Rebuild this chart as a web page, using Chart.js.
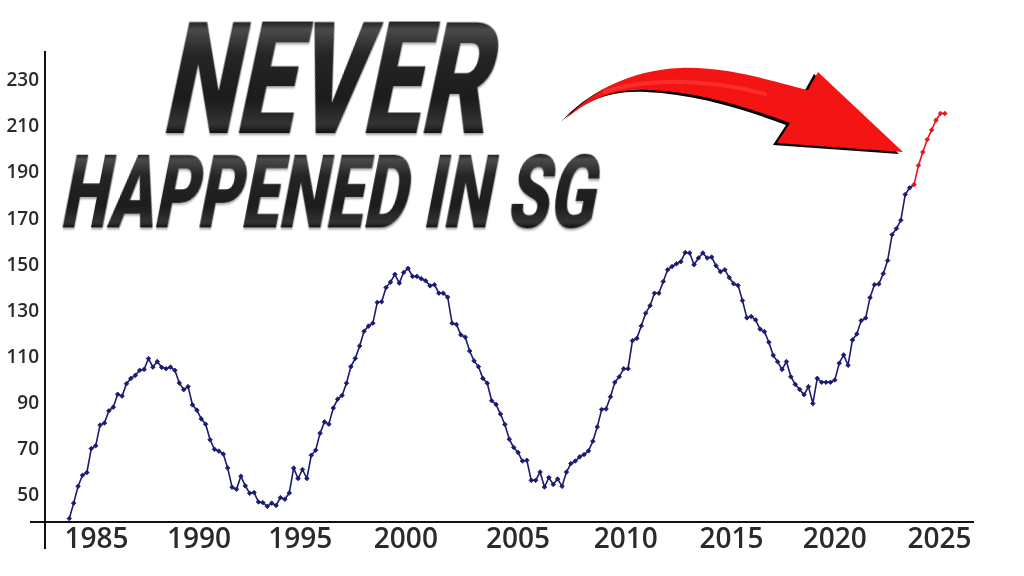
<!DOCTYPE html>
<html>
<head>
<meta charset="utf-8">
<script src="https://cdn.jsdelivr.net/npm/chart.js@4.4.1/dist/chart.umd.min.js"></script>
<style>
  html, body { margin: 0; padding: 0; background: #fff; }
  #wrap { position: relative; width: 1024px; height: 576px; overflow: hidden; background: #fff; }
  #chart { position: absolute; left: 0; top: 0; }
  #arrow { position: absolute; left: 0; top: 0; pointer-events: none; }
  .headline {
    position: absolute; left: 0; top: 0;
    white-space: nowrap;
    font-family: Roboto, "Open Sans", sans-serif;
    font-weight: 900;
    line-height: 1;
    color: #242424;
    -webkit-background-clip: text;
    background-clip: text;
    -webkit-text-fill-color: transparent;
    filter: drop-shadow(1px 2px 1px rgba(0, 0, 0, 0.35));
  }
</style>
</head>
<body>
<div id="wrap">
  <canvas id="chart" width="1024" height="576"></canvas>
  <svg id="arrow" width="1024" height="576" viewBox="0 0 1024 576">
    <path id="arrow_Shadow" fill="#000" transform="translate(-4,2)"
      d="M565,120 C590,92 630,70 680,68 C730,66 780,84 808,90 L818,72 L903,152 L777,143 L790,123 C750,108 700,92 650,90 C610,88 585,102 565,120 Z"/>
    <path id="arrow_Body" fill="#f51414"
      d="M565,120 C590,92 630,70 680,68 C730,66 780,84 808,90 L818,72 L903,152 L777,143 L790,123 C750,108 700,92 650,90 C610,88 585,102 565,120 Z"/>
    <path fill="none" stroke="#ff4040" stroke-width="4" stroke-linecap="round" opacity="0.6"
      d="M605,92 C645,78 705,78 765,94"/>
  </svg>
  <div class="headline" id="title_Top">NEVER</div>
  <div class="headline" id="title_Bottom">HAPPENED IN SG</div>
</div>
<script>
// data, one value per point, left to right
const price_Values = [
  39.9, 46.6, 53.9, 58.7, 59.9, 70.3, 71.5, 80.5, 81.4, 86.7,
  88.3, 93.9, 93.1, 98.5, 100.8, 102.1, 104.3, 104.7, 109.4, 105.7,
  108.1, 105.6, 105.0, 105.7, 104.3, 98.8, 95.9, 97.2, 89.3, 87.0,
  83.2, 80.9, 74.1, 70.0, 69.2, 67.9, 61.9, 53.5, 52.6, 58.3,
  54.1, 50.9, 51.2, 47.1, 46.8, 45.2, 46.6, 45.6, 49.0, 48.3,
  51.0, 61.8, 57.3, 61.2, 57.3, 67.4, 69.6, 77.0, 81.9, 80.9,
  87.9, 91.8, 93.4, 98.7, 105.9, 109.5, 114.9, 121.3, 123.5, 124.8,
  133.8, 134.1, 140.3, 142.6, 146.0, 142.2, 146.8, 148.6, 145.1, 145.1,
  144.1, 143.2, 141.0, 141.5, 137.8, 137.8, 136.1, 124.8, 124.2, 119.7,
  118.7, 112.7, 108.4, 105.9, 100.8, 98.7, 91.1, 89.5, 85.3, 80.8,
  74.4, 70.8, 68.6, 64.9, 65.2, 56.5, 56.5, 60.1, 53.6, 57.7,
  54.7, 57.1, 53.9, 60.1, 63.8, 64.9, 66.7, 67.7, 69.3, 73.5,
  79.7, 87.3, 87.5, 92.8, 99.1, 101.5, 105.0, 105.0, 117.2, 118.2,
  123.6, 129.1, 132.4, 137.8, 137.8, 142.9, 148.0, 149.4, 150.6, 151.5,
  155.5, 155.3, 150.2, 153.1, 155.3, 153.1, 153.5, 149.7, 147.1, 148.0,
  144.6, 141.9, 141.2, 134.6, 127.1, 127.7, 126.2, 122.2, 121.1, 116.5,
  110.8, 108.0, 104.7, 108.1, 101.5, 98.2, 96.0, 93.7, 97.2, 89.9,
  100.8, 99.1, 99.1, 99.1, 100.1, 107.4, 111.0, 106.5, 117.5, 120.1,
  125.9, 127.0, 135.9, 141.5, 141.8, 146.3, 152.0, 163.2, 165.9, 169.5,
  180.7, 183.6, 185.0, 193.3, 199.1, 204.6, 208.7, 213.0, 215.9, 215.9
];
const red_From = 192; // first point drawn red
const tick_Years = [1985, 1990, 1995, 2000, 2005, 2010, 2015, 2020, 2025];
// point index under each year label, as placed in the picture
const tick_Points = [6.2, 29.5, 52.5, 76.5, 102, 126.5, 150.5, 174, 197.8];
const y_Ticks = [50, 70, 90, 110, 130, 150, 170, 190, 210, 230];

const navy = "#1b1b70";
const red = "#e8141a";

Chart.defaults.font.family = "'Open Sans', sans-serif";
Chart.defaults.color = "#2a2a2a";

//axis stubs past the chart area
const axis_Stubs = {
  id: "axis_Stubs",
  afterDraw(chart) {
    const { ctx, chartArea } = chart;
    ctx.save();
    ctx.strokeStyle = "#111";
    ctx.lineWidth = 2;
    ctx.beginPath();
    ctx.moveTo(chartArea.left, chartArea.bottom);
    ctx.lineTo(chartArea.left, chartArea.bottom + 27);
    ctx.moveTo(chartArea.left - 15, chartArea.bottom);
    ctx.lineTo(chartArea.left, chartArea.bottom);
    ctx.stroke();
    ctx.restore();
  },
};

const chart_Data = price_Values.map((v, i) => ({ x: i, y: v }));

new Chart(document.getElementById("chart"), {
  type: "line",
  data: {
    datasets: [
      {
        data: chart_Data,
        borderWidth: 1.6,
        borderColor: navy,
        pointRadius: 2.3,
        pointStyle: "rectRot",
        pointBorderWidth: 0.8,
        pointBackgroundColor: (c) => (c.dataIndex >= red_From ? red : navy),
        pointBorderColor: (c) => (c.dataIndex >= red_From ? red : navy),
        segment: {
          borderColor: (c) => (c.p0DataIndex >= red_From ? red : navy),
        },
        tension: 0,
      },
    ],
  },
  plugins: [axis_Stubs],
  options: {
    responsive: false,
    animation: false,
    devicePixelRatio: 1,
    layout: { padding: { left: 0, top: 52, right: 51, bottom: 0 } },
    plugins: { legend: { display: false }, tooltip: { enabled: false } },
    scales: {
      x: {
        type: "linear",
        min: -5.52,
        max: 205.4,
        afterBuildTicks: (s) => { s.ticks = tick_Points.map((v) => ({ value: v })); },
        afterFit: (s) => { s.height = 54; },
        grid: { display: false, drawTicks: false },
        border: { display: true, color: "#111", width: 2 },
        ticks: {
          autoSkip: false,
          maxRotation: 0,
          padding: 1,
          font: { size: 28, weight: 600 },
          callback: (v, i) => tick_Years[i],
        },
      },
      y: {
        min: 38.4,
        max: 242.6,
        afterBuildTicks: (s) => { s.ticks = y_Ticks.map((v) => ({ value: v })); },
        afterFit: (s) => { s.width = 45; },
        grid: { display: false, drawTicks: false },
        border: { display: true, color: "#111", width: 2 },
        ticks: {
          padding: 6,
          font: { size: 19, weight: 600 },
        },
      },
    },
  },
});

//headline sizing: fit ink box to the spot in the picture
function fit_Headline(el, ink_Left, base_Y, cap_H, base_Width, skew_Deg) {
  const m = document.createElement("canvas").getContext("2d");
  const fam = getComputedStyle(el).fontFamily;
  m.font = `900 100px ${fam}`;
  const probe = m.measureText(el.textContent);
  const fs = (100 * cap_H) / probe.actualBoundingBoxAscent;
  m.font = `900 ${fs}px ${fam}`;
  const k = m.measureText(el.textContent);
  const ink = k.actualBoundingBoxLeft + k.actualBoundingBoxRight;
  const sx = base_Width / ink;
  const base_Off = (fs - (k.fontBoundingBoxAscent + k.fontBoundingBoxDescent)) / 2 + k.fontBoundingBoxAscent;
  const cap_Top = base_Off - k.actualBoundingBoxAscent;

  el.style.fontSize = fs + "px";
  el.style.left = ink_Left + k.actualBoundingBoxLeft * sx + "px";
  el.style.top = base_Y - base_Off + "px";
  el.style.transformOrigin = `0 ${base_Off}px`;
  el.style.transform = `skewX(${-skew_Deg}deg) scaleX(${sx})`;
  el.style.backgroundImage = `linear-gradient(to bottom,
    #1a1a1a ${cap_Top}px, #4a4a4a ${cap_Top + cap_H * 0.08}px,
    #252525 ${cap_Top + cap_H * 0.3}px, #1c1c1c ${cap_Top + cap_H * 0.7}px,
    #333 ${cap_Top + cap_H * 0.92}px, #111 ${base_Off}px)`;
}

fit_Headline(document.getElementById("title_Top"), 165, 133, 113, 318, 12);
fit_Headline(document.getElementById("title_Bottom"), 62, 227, 75, 528, 11);
</script>
</body>
</html>
